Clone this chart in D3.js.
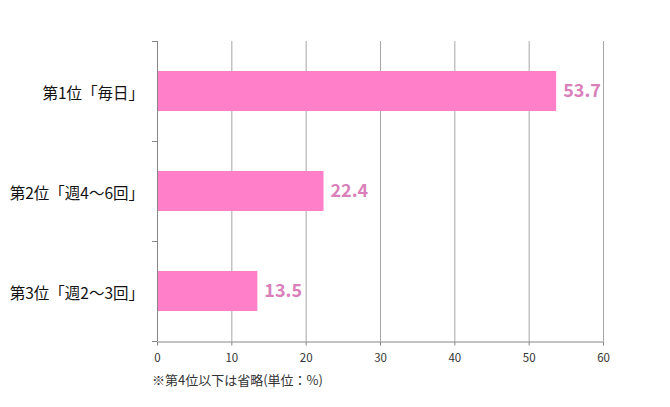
<!DOCTYPE html>
<html>
<head>
<meta charset="utf-8">
<script src="https://cdn.jsdelivr.net/npm/d3@7"></script>
<style>
  body { margin: 0; background: #fff; }
  svg text { font-family: "Noto Sans CJK JP", "Noto Sans", sans-serif; }
</style>
</head>
<body>
<svg id="chart" width="670" height="407"></svg>
<script>
// chart data
var categories = ['第1位「毎日」', '第2位「週4～6回」', '第3位「週2～3回」'];
var values = [53.7, 22.4, 13.5];
var xTicks = [0, 10, 20, 30, 40, 50, 60];
var note = '※第4位以下は省略(単位：%)';

var svg = d3.select('#chart');
var plotLeft = 157, plotRight = 603, plotTop = 41, plotBottom = 341;

var x = d3.scaleLinear().domain([0, 60]).range([plotLeft, plotRight]);
var y = d3.scaleBand().domain(categories).range([plotTop, plotBottom]).paddingInner(0.6).paddingOuter(0.3);

// vertical gridlines
svg.append('g').selectAll('line')
	.data(xTicks.slice(1))
	.enter().append('line')
	.attr('x1', function(d){ return x(d) + 0.5; })
	.attr('x2', function(d){ return x(d) + 0.5; })
	.attr('y1', plotTop)
	.attr('y2', plotBottom)
	.attr('stroke', '#a6a6a6')
	.attr('stroke-width', 1);

// bars
svg.append('g').selectAll('rect')
	.data(values)
	.enter().append('rect')
	.attr('x', x(0))
	.attr('y', function(d, i){ return y(categories[i]); })
	.attr('width', function(d){ return x(d) - x(0); })
	.attr('height', y.bandwidth())
	.attr('fill', '#ff7fc8');

// value labels
svg.append('g').selectAll('text')
	.data(values)
	.enter().append('text')
	.attr('x', function(d){ return x(d) + 7; })
	.attr('y', function(d, i){ return y(categories[i]) + y.bandwidth() / 2; })
	.attr('dy', '0.36em')
	.attr('font-size', 18)
	.attr('font-weight', 'bold')
	.attr('fill', '#d97fb9')
	.text(function(d){ return d.toFixed(1); });

// x axis
var xAxis = svg.append('g')
	.attr('transform', 'translate(0,' + (plotBottom + 0.5) + ')')
	.call(d3.axisBottom(x).tickValues(xTicks).tickSize(4).tickSizeOuter(0));
xAxis.select('.domain').attr('stroke', '#868686');
xAxis.selectAll('.tick line').attr('stroke', '#868686');
xAxis.selectAll('.tick text')
	.attr('font-size', 11.5)
	.attr('fill', '#333')
	.attr('dy', '1.2em');

// y axis
var yEdges = d3.range(categories.length + 1).map(function(i){ return plotTop + i * (plotBottom - plotTop) / categories.length; });
var yAxis = svg.append('g');
yAxis.append('line')
	.attr('x1', plotLeft + 0.5).attr('x2', plotLeft + 0.5)
	.attr('y1', plotTop).attr('y2', plotBottom)
	.attr('stroke', '#868686');
yAxis.selectAll('.edge')
	.data(yEdges)
	.enter().append('line')
	.attr('x1', plotLeft - 5).attr('x2', plotLeft)
	.attr('y1', function(d){ return d + 0.5; })
	.attr('y2', function(d){ return d + 0.5; })
	.attr('stroke', '#868686');
yAxis.selectAll('text')
	.data(categories)
	.enter().append('text')
	.attr('x', 144)
	.attr('y', function(d){ return y(d) + y.bandwidth() / 2 + 2; })
	.attr('dy', '0.36em')
	.attr('text-anchor', 'end')
	.attr('font-size', 15.5)
	.attr('fill', '#111')
	.text(function(d){ return d; });

// footnote
svg.append('text')
	.attr('x', 152)
	.attr('y', 385)
	.attr('font-size', 13)
	.attr('fill', '#333')
	.text(note);
</script>
</body>
</html>
